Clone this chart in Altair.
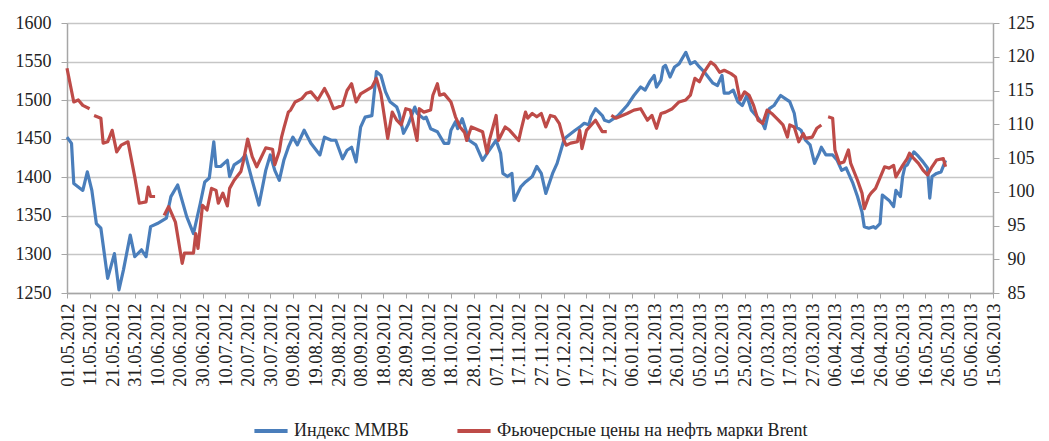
import altair as alt
import pandas as pd

# X tick labels (every 10 days from 01.05.2012)
tick_labels = ["01.05.2012", "11.05.2012", "21.05.2012", "31.05.2012", "10.06.2012",
               "20.06.2012", "30.06.2012", "10.07.2012", "20.07.2012", "30.07.2012",
               "09.08.2012", "19.08.2012", "29.08.2012", "08.09.2012", "18.09.2012",
               "28.09.2012", "08.10.2012", "18.10.2012", "28.10.2012", "07.11.2012",
               "17.11.2012", "27.11.2012", "07.12.2012", "17.12.2012", "27.12.2012",
               "06.01.2013", "16.01.2013", "26.01.2013", "05.02.2013", "15.02.2013",
               "25.02.2013", "07.03.2013", "17.03.2013", "27.03.2013", "06.04.2013",
               "16.04.2013", "26.04.2013", "06.05.2013", "16.05.2013", "26.05.2013",
               "05.06.2013", "15.06.2013"]

left_ticks = [1250, 1300, 1350, 1400, 1450, 1500, 1550, 1600]
right_ticks = [85, 90, 95, 100, 105, 110, 115, 120, 125]

series_names = ["Индекс ММВБ", "Фьючерсные цены на нефть марки Brent"]

# Index MICEX: day offset from 01.05.2012 and value
micex_day = [0, 2, 3, 7, 9, 11, 13, 15, 18, 21, 23, 25, 28, 30, 33, 35, 37, 40, 44, 46,
             49, 53, 56, 59, 61, 63, 65, 66, 68, 71, 72, 74, 77, 79, 82, 85, 88, 90, 92, 94,
             96, 98, 100, 102, 105, 108, 112, 114, 117, 119, 122, 124, 126, 128, 130, 132, 135, 137, 139, 141,
             143, 146, 147, 149, 151, 154, 155, 158, 159, 161, 164, 167, 169, 170, 172, 173, 175, 178, 181, 184,
             186, 190, 192, 193, 195, 197, 198, 201, 203, 206, 208, 210, 212, 215, 217, 220, 221, 225, 227, 229,
             231, 232, 234, 237, 238, 240, 244, 248, 251, 254, 256, 258, 260, 261, 263, 264, 265, 267, 269, 271,
             274, 276, 278, 280, 282, 286, 288, 290, 291, 293, 295, 297, 299, 301, 303, 308, 309, 311, 313, 315,
             316, 318, 320, 322, 323, 325, 327, 329, 331, 333, 334, 336, 339, 341, 343, 345, 348, 350, 352, 353,
             355, 357, 358, 360, 361, 364, 366, 367, 369, 370, 371, 372, 375, 377, 379, 381, 382, 383, 385, 387,
             389]
micex_val = [1452, 1444, 1392, 1383, 1407, 1383, 1340, 1334, 1269, 1301, 1254, 1280, 1325, 1297, 1306, 1297, 1336, 1340, 1347, 1375,
             1390, 1349, 1327, 1366, 1394, 1399, 1446, 1414, 1414, 1422, 1401, 1416, 1422, 1429, 1396, 1364, 1409, 1429, 1409, 1396,
             1422, 1439, 1452, 1442, 1461, 1444, 1429, 1452, 1448, 1448, 1424, 1435, 1439, 1420, 1465, 1478, 1480, 1537, 1532, 1511,
             1498, 1491, 1483, 1457, 1468, 1491, 1483, 1476, 1478, 1463, 1459, 1444, 1444, 1461, 1472, 1463, 1476, 1448, 1442, 1422,
             1431, 1448, 1431, 1405, 1401, 1405, 1370, 1388, 1394, 1401, 1414, 1405, 1379, 1405, 1418, 1448, 1452, 1461, 1465, 1470,
             1468, 1478, 1489, 1480, 1474, 1472, 1480, 1493, 1506, 1517, 1513, 1524, 1532, 1517, 1526, 1543, 1545, 1530, 1543, 1547,
             1562, 1547, 1550, 1543, 1537, 1522, 1519, 1532, 1509, 1509, 1513, 1498, 1493, 1506, 1487, 1470, 1463, 1489, 1493, 1502,
             1506, 1502, 1498, 1483, 1465, 1461, 1448, 1442, 1418, 1431, 1439, 1429, 1429, 1422, 1409, 1412, 1392, 1375, 1355, 1336,
             1334, 1336, 1334, 1340, 1377, 1370, 1362, 1383, 1375, 1401, 1414, 1416, 1433, 1427, 1420, 1412, 1373, 1401, 1405, 1407,
             1422]

# Brent futures: day offset and value (None = gap in the line)
brent_day = [0, 3, 5, 7, 10, 11, 12, 15, 16, 18, 20, 22, 24, 27, 30, 32, 35, 36, 37, 39,
             41, 43, 45, 48, 51, 52, 56, 57, 58, 60, 62, 64, 66, 67, 69, 71, 72, 74, 77, 78,
             80, 82, 84, 88, 91, 92, 94, 95, 96, 98, 99, 101, 104, 106, 108, 111, 114, 116, 118, 119,
             122, 124, 125, 126, 128, 130, 135, 137, 139, 142, 144, 146, 148, 150, 152, 155, 156, 158, 161, 162,
             164, 165, 167, 170, 172, 174, 176, 177, 179, 184, 186, 187, 190, 191, 194, 196, 200, 201, 203, 204,
             206, 208, 210, 212, 214, 216, 218, 220, 221, 223, 226, 227, 228, 230, 234, 237, 239, 240, 241, 243,
             248, 251, 254, 257, 259, 261, 263, 265, 268, 271, 274, 276, 278, 280, 282, 285, 287, 289, 291, 294,
             296, 298, 300, 302, 304, 306, 308, 310, 312, 315, 317, 319, 320, 322, 324, 326, 327, 330, 332, 334,
             335, 337, 339, 340, 342, 344, 346, 347, 350, 352, 353, 355, 356, 358, 362, 364, 366, 367, 370, 372,
             373, 375, 377, 379, 381, 383, 385, 388, 389]
brent_val = [118.3, 113.3, 113.6, 112.8, 112.3, None, 111.3, 110.9, 107.2, 107.4, 109.1, 105.9, 106.9, 107.4, 102.2, 98.3, 98.5, 100.7, 99.3, 99.3,
             None, 96.5, 97.8, 95.5, 89.4, 90.9, 90.9, 93.8, 91.6, 98.0, 97.3, 100.5, 100.2, 98.3, 99.8, 97.9, 100.5, 101.7, 103.0, 104.4,
             107.8, 105.2, 103.7, 106.5, 106.3, 104.0, 106.0, 108.1, 109.4, 111.8, 112.1, 113.3, 113.8, 114.6, 114.8, 113.6, 115.3, 114.0, 112.3, 112.4,
             112.8, 115.0, 115.5, 116.0, 113.3, 114.5, 115.5, 116.8, 114.5, 107.9, 111.8, 110.6, 109.9, 112.3, 112.1, 107.6, 112.3, 111.8, 112.1, 114.3,
             116.0, 114.3, 114.5, 113.3, 111.1, 109.6, 108.8, 107.6, 109.6, 108.9, 105.7, 107.6, 111.3, 107.6, 109.6, 109.1, 107.6, 109.1, 111.8, 110.9,
             111.6, 111.1, 111.6, 109.6, 111.3, 111.1, 110.1, 107.6, 106.9, 107.2, 107.4, 109.1, 106.4, 109.1, 110.6, 108.9, 108.9, None, 111.3, 110.9,
             111.6, 112.1, 112.3, 110.6, 111.3, 109.4, 111.6, 111.8, 112.3, 113.3, 113.6, 114.3, 116.8, 116.3, 117.7, 119.2, 118.7, 117.7, 118.0, 117.5,
             117.0, 113.6, 114.8, 114.3, 112.8, 110.6, 110.1, 112.1, 111.6, 110.6, 109.9, 108.1, 109.9, 109.6, 107.4, 108.6, 107.9, 108.1, 109.4, 109.9,
             None, 111.1, 110.9, 106.2, 104.2, 104.4, 106.2, 104.2, 101.7, 99.8, 97.5, 99.3, 99.8, 100.5, 103.7, 103.5, 103.9, 102.2, 103.9, 104.9,
             105.7, 104.9, 104.2, 103.2, 102.5, 103.7, 104.7, 104.9, 103.7]


def build(days, vals, name):
    rows, seg = [], 0
    for d, v in zip(days, vals):
        if v is None:
            seg += 1
            continue
        rows.append({"day": d, "value": v, "series": name, "seg": f"{name}-{seg}"})
    return pd.DataFrame(rows)


df_micex = build(micex_day, micex_val, series_names[0])
df_brent = build(brent_day, brent_val, series_names[1])

tick_days = [10 * i for i in range(len(tick_labels))]
label_expr = "[" + ",".join(f"'{t}'" for t in tick_labels) + "][round(datum.value / 10)]"

FONT = "Liberation Serif"
BLUE = "#4A7EBB"
RED = "#BE4B48"

x_enc = alt.X("day:Q",
              scale=alt.Scale(domain=[0, 410], nice=False, zero=False),
              axis=alt.Axis(values=tick_days, labelExpr=label_expr, labelAngle=-90,
                            title=None, grid=False, labelFont=FONT, labelFontSize=18.5,
                            labelColor="#222222", tickColor="#a6a6a6", tickSize=5,
                            domainColor="#a6a6a6", domainWidth=1.5, labelPadding=5,
                            labelOverlap=False, labelBound=False, labelFlush=False))

color_enc = alt.Color("series:N",
                      scale=alt.Scale(domain=series_names, range=[BLUE, RED]),
                      legend=alt.Legend(orient="none", legendX=185, legendY=389,
                                        direction="horizontal", title=None,
                                        symbolType="stroke", symbolSize=1100,
                                        symbolStrokeWidth=4, labelFont=FONT,
                                        labelFontSize=18, labelColor="#222222",
                                        columnPadding=40, labelOffset=4,
                                        labelLimit=400))

left = alt.Chart(df_micex).mark_line(strokeWidth=3.2, strokeJoin="round").encode(
    x=x_enc,
    y=alt.Y("value:Q",
            scale=alt.Scale(domain=[1250, 1600], nice=False, zero=False),
            axis=alt.Axis(orient="left", values=left_ticks, format="d", title=None, grid=True,
                          gridColor="#c6c6c6", gridWidth=1.6, labelFont=FONT,
                          labelFontSize=18, labelColor="#222222", tickColor="#a6a6a6",
                          tickSize=6, labelPadding=10, domainColor="#a6a6a6",
                          domainWidth=1.5)),
    color=color_enc,
    detail="seg:N",
    order="day:Q",
)

right = alt.Chart(df_brent).mark_line(strokeWidth=3.2, strokeJoin="round").encode(
    x=x_enc,
    y=alt.Y("value:Q",
            scale=alt.Scale(domain=[85, 125], nice=False, zero=False),
            axis=alt.Axis(orient="right", values=right_ticks, format="d", title=None, grid=False,
                          labelFont=FONT, labelFontSize=18, labelColor="#222222",
                          tickColor="#a6a6a6", tickSize=6, labelPadding=8,
                          domainColor="#a6a6a6", domainWidth=1.5)),
    color=color_enc,
    detail="seg:N",
    order="day:Q",
)

chart = alt.layer(left, right).resolve_scale(y="independent").properties(
    width=926, height=270,
    autosize=alt.AutoSizeParams(type="none"),
    padding={"left": 59, "top": 15, "right": 48, "bottom": 146},
    background="white",
).configure_view(stroke=None)

chart.save("out.html", embed_options={"renderer": "svg", "actions": False})
